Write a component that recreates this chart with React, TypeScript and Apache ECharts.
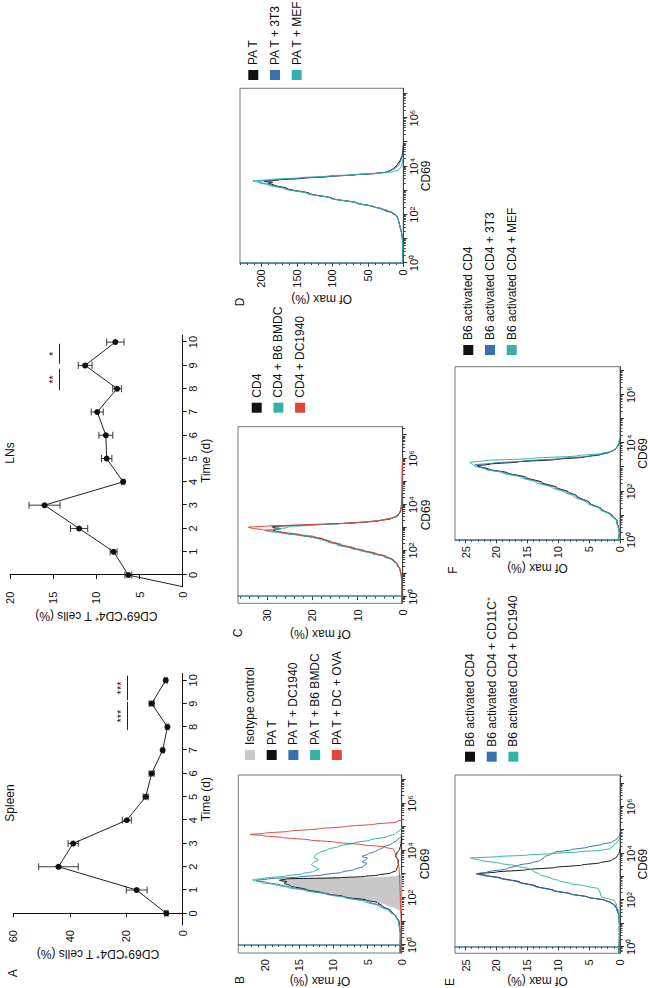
import React, { useEffect, useRef } from 'react';
import * as echarts from 'echarts';

const FONT = '"Liberation Sans", Arial, Helvetica, sans-serif';
const INK = '#111111';

// ---------- Panel A: time courses ----------
const days = [0, 1, 2, 3, 4, 5, 6, 7, 8, 9, 10];
const spleenMean = [5.8, 16.3, 44.0, 38.8, 19.8, 13.1, 11.0, 7.1, 5.4, 11.0, 6.0];
const spleenSem = [0.6, 3.7, 7.0, 1.8, 1.6, 0.9, 0.9, 0.5, 0.5, 0.9, 0.5];
const lnMean = [6.3, 8.0, 12.0, 16.0, 6.9, 8.8, 8.9, 9.9, 7.6, 11.3, 7.8];
const lnSem = [0.4, 0.4, 1.0, 1.8, 0.2, 0.6, 0.8, 0.7, 0.5, 0.8, 1.0];
const lnOrigin = [-0.5, 0];
const spleenTicks = [0, 20, 40, 60];
const lnTicks = [0, 5, 10, 15, 20];
const spleenSig = [
  { from: 7.86, to: 9.07, y: 19.6, label: '***' },
  { from: 9.14, to: 10.2, y: 19.6, label: '***' },
];
const lnSig = [
  { from: 7.93, to: 8.86, y: 14.3, label: '**' },
  { from: 9.07, to: 9.93, y: 14.3, label: '*' },
];

// ---------- Histograms: [log10(CD69), % of max] ----------
const bIsotype = [[1.45, 0], [1.55, 0.8], [1.7, 2.2], [1.85, 4], [2.0, 6.5], [2.15, 9.5], [2.3, 12.8], [2.45, 15.2], [2.6, 16.8], [2.72, 17.6], [2.78, 17], [2.82, 12], [2.85, 4], [2.9, 0.8], [3.0, 0]];
const bPaT = [[-0.34, 0.2], [0.5, 0.2], [1.0, 0.4], [1.2, 0.8], [1.45, 1.6], [1.65, 2.8], [1.8, 3.6], [1.9, 5.2], [2.05, 8.5], [2.2, 11.5], [2.35, 14], [2.5, 16.2], [2.62, 17.2], [2.68, 16.8], [2.74, 17.9], [2.8, 16.8], [2.85, 9], [2.9, 5.5], [2.96, 3.5], [3.05, 1.6], [3.15, 0.8], [3.4, 0.5], [3.6, 0.5], [3.75, 0.9], [3.9, 0.7], [4.05, 0.3], [4.3, 0.1], [4.6, 0]];
const bDC1940 = [[-0.34, 0.3], [0.5, 0.2], [1.0, 0.4], [1.2, 0.8], [1.45, 1.7], [1.65, 3.0], [1.85, 5.0], [2.0, 7.8], [2.15, 10.5], [2.3, 13.5], [2.45, 16.3], [2.55, 17.8], [2.65, 19.8], [2.73, 21.3], [2.8, 19.5], [2.88, 15], [2.97, 11.5], [3.08, 8.8], [3.2, 6.9], [3.33, 5.6], [3.45, 5.1], [3.52, 5.8], [3.6, 5.3], [3.68, 5.0], [3.75, 5.8], [3.85, 4.9], [4.0, 3.6], [4.15, 2.6], [4.3, 1.4], [4.45, 0.6], [4.6, 0.1], [4.8, 0]];
const bBMDC = [[-0.34, 0.3], [0.5, 0.2], [1.0, 0.5], [1.2, 0.9], [1.45, 1.9], [1.65, 3.3], [1.85, 5.5], [2.0, 8.2], [2.15, 11], [2.3, 14], [2.45, 16.8], [2.55, 18.5], [2.65, 20.6], [2.76, 21.8], [2.83, 20], [2.92, 17], [3.02, 14.5], [3.12, 12.8], [3.22, 12.1], [3.3, 12.6], [3.4, 13.2], [3.5, 12.9], [3.6, 12.2], [3.7, 12.8], [3.82, 12.6], [3.92, 12], [4.05, 10.8], [4.18, 9.2], [4.32, 7], [4.45, 4.6], [4.58, 2.2], [4.72, 0.9], [4.9, 0.1], [5.0, 0]];
const bOVA = [[-0.34, 0.1], [1.0, 0.1], [2.0, 0.2], [2.8, 0.3], [3.3, 0.4], [3.6, 0.6], [3.85, 0.9], [4.05, 1.2], [4.15, 2.5], [4.25, 5.8], [4.35, 9.6], [4.45, 13.5], [4.55, 17.3], [4.63, 20.3], [4.68, 22.2], [4.73, 20.1], [4.82, 16.4], [4.92, 12.2], [5.02, 8.0], [5.12, 3.9], [5.2, 0.8], [5.3, 0]];

const cCD4 = [[-0.29, 0.2], [0.5, 0.2], [0.9, 0.3], [1.16, 0.6], [1.4, 1.2], [1.59, 2.2], [1.75, 4], [1.88, 6.6], [2.0, 9], [2.1, 11.2], [2.25, 14], [2.4, 16.5], [2.5, 17.8], [2.56, 19.5], [2.64, 22], [2.74, 25.5], [2.84, 28.2], [2.9, 28.8], [2.95, 27], [3.0, 28.8], [3.04, 29], [3.08, 25], [3.14, 17], [3.2, 10.5], [3.28, 5.5], [3.38, 2.6], [3.5, 1.1], [3.7, 0.5], [4.0, 0.2], [4.5, 0.1], [5.5, 0.1], [6.0, 0]];
const cBMDC = [[-0.29, 0.2], [0.5, 0.2], [0.9, 0.3], [1.16, 0.6], [1.4, 1.3], [1.59, 2.4], [1.75, 4.3], [1.88, 7], [2.0, 9.5], [2.1, 11.6], [2.25, 14.5], [2.4, 17], [2.5, 18.5], [2.58, 20.2], [2.66, 23], [2.76, 27], [2.84, 30], [2.88, 30.5], [2.93, 28], [2.98, 26], [3.04, 25], [3.1, 20], [3.16, 14], [3.22, 9], [3.3, 5], [3.4, 2.4], [3.52, 1], [3.7, 0.4], [4.0, 0.2], [5.0, 0.1], [6.0, 0]];
const cDC1940 = [[-0.29, 0.2], [0.5, 0.2], [0.9, 0.3], [1.16, 0.5], [1.4, 1.1], [1.59, 2.0], [1.75, 3.6], [1.88, 6], [2.0, 8.5], [2.1, 10.6], [2.25, 13.5], [2.4, 16], [2.5, 17.5], [2.6, 19.5], [2.7, 23], [2.8, 27], [2.9, 31], [2.97, 33.5], [3.01, 34.2], [3.06, 30], [3.12, 21], [3.18, 13], [3.25, 7.5], [3.34, 4], [3.45, 1.8], [3.6, 0.8], [3.8, 0.4], [4.2, 0.2], [5.0, 0.1], [6.0, 0]];

const dPaT = [[0, 1], [0.38, 0.5], [0.78, 0.8], [1.08, 1.5], [1.26, 2.5], [1.48, 4.5], [1.73, 6.5], [1.95, 9], [2.08, 16], [2.18, 26], [2.25, 32], [2.33, 42], [2.48, 64], [2.68, 100], [2.88, 132], [3.08, 163], [3.23, 182], [3.3, 190], [3.34, 184], [3.38, 196], [3.44, 175], [3.51, 140], [3.58, 105], [3.65, 68], [3.71, 38], [3.76, 24], [3.83, 18], [3.93, 13], [4.08, 8], [4.28, 4], [4.48, 1.5], [4.73, 0.3], [4.88, 0]];
const d3T3 = [[0, 1], [0.38, 0.5], [0.78, 0.8], [1.08, 1.5], [1.26, 2.5], [1.48, 4.5], [1.73, 6.5], [1.95, 9], [2.08, 15], [2.18, 24], [2.25, 31], [2.33, 42], [2.48, 66], [2.68, 102], [2.88, 135], [3.08, 166], [3.23, 186], [3.33, 200], [3.38, 205], [3.44, 182], [3.51, 145], [3.58, 108], [3.65, 70], [3.71, 40], [3.76, 25], [3.83, 17], [3.93, 11], [4.08, 6], [4.28, 3], [4.48, 1], [4.68, 0]];
const dMEF = [[0, 1], [0.38, 0.5], [0.78, 0.8], [1.08, 1.5], [1.26, 2.5], [1.48, 4.5], [1.73, 6.5], [1.95, 9], [2.08, 14], [2.18, 22], [2.25, 30], [2.33, 41], [2.48, 65], [2.68, 101], [2.88, 135], [3.08, 168], [3.23, 190], [3.33, 204], [3.4, 212], [3.46, 185], [3.53, 145], [3.6, 105], [3.67, 62], [3.73, 30], [3.78, 14], [3.85, 7], [3.98, 3], [4.18, 1], [4.38, 0]];

const eCD4 = [[-0.28, 0.2], [0.5, 0.1], [1.0, 0.1], [1.34, 0.2], [1.6, 0.5], [1.77, 0.8], [1.9, 1.5], [1.99, 2.4], [2.13, 5.2], [2.27, 8], [2.41, 10.7], [2.6, 13.6], [2.77, 16.2], [2.95, 19.3], [3.05, 21.5], [3.13, 23.2], [3.2, 20], [3.3, 15.2], [3.4, 10.5], [3.5, 6.2], [3.6, 3.2], [3.7, 1.4], [3.85, 0.5], [4.05, 0.1], [4.2, 0]];
const eCD11C = [[-0.28, 0.2], [0.5, 0.1], [1.0, 0.1], [1.34, 0.2], [1.6, 0.5], [1.77, 0.9], [1.9, 1.6], [1.99, 2.5], [2.13, 5.3], [2.27, 8.1], [2.41, 10.9], [2.6, 13.9], [2.77, 16.5], [2.95, 19.6], [3.05, 22], [3.12, 23.2], [3.2, 21.5], [3.35, 18.2], [3.5, 16.3], [3.6, 14.3], [3.7, 12.9], [3.85, 12.2], [3.97, 11.2], [4.05, 10.6], [4.15, 8], [4.27, 5.2], [4.38, 3.0], [4.49, 1.3], [4.62, 0.5], [4.77, 0.1], [4.9, 0]];
const eDC1940 = [[-0.28, 0.2], [0.5, 0.1], [1.0, 0.1], [1.49, 0.2], [1.8, 0.6], [1.99, 0.9], [2.05, 1.8], [2.13, 3.0], [2.3, 3.2], [2.49, 3.5], [2.6, 5.5], [2.7, 7.9], [2.82, 9.8], [2.94, 11.2], [3.1, 13], [3.27, 14.2], [3.35, 14.8], [3.45, 16.5], [3.58, 19.5], [3.7, 22.5], [3.8, 24.2], [3.86, 20], [3.93, 15], [4.0, 10.5], [4.07, 6.5], [4.14, 3], [4.2, 1.6], [4.35, 1.0], [4.5, 0.4], [4.62, 0.1], [4.75, 0]];

const fCD4 = [[0, 0.3], [0.3, 0.1], [0.79, 0.5], [1.02, 1.3], [1.27, 3.0], [1.52, 4.9], [1.82, 7.0], [1.97, 8.3], [2.16, 10.2], [2.37, 12.6], [2.58, 15.2], [2.77, 18.2], [2.92, 21.2], [3.06, 23.1], [3.13, 21], [3.22, 16.5], [3.32, 10.5], [3.42, 5.8], [3.52, 3.2], [3.62, 1.7], [3.72, 0.9], [3.87, 0.4], [4.02, 0.1], [4.17, 0]];
const f3T3 = [[0, 0.3], [0.3, 0.1], [0.79, 0.5], [1.02, 1.4], [1.27, 3.1], [1.52, 5.0], [1.82, 7.2], [1.97, 8.6], [2.16, 10.6], [2.37, 13.0], [2.58, 15.6], [2.77, 18.6], [2.92, 21.6], [3.04, 23.2], [3.1, 23.5], [3.17, 20.5], [3.26, 15.5], [3.36, 9.5], [3.46, 5.0], [3.56, 2.6], [3.66, 1.3], [3.77, 0.6], [3.92, 0.2], [4.12, 0]];
const fMEF = [[0, 0.3], [0.3, 0.1], [0.79, 0.6], [1.02, 1.5], [1.27, 3.3], [1.52, 5.3], [1.82, 7.6], [1.97, 9.0], [2.16, 11.0], [2.37, 13.5], [2.58, 16.0], [2.77, 19.0], [2.92, 21.8], [3.07, 23.6], [3.2, 24.3], [3.27, 22], [3.37, 14], [3.47, 7], [3.57, 3], [3.67, 1.2], [3.82, 0.5], [4.02, 0.2], [4.22, 0]];

// ---------- axis constants ----------
const decadeTicks = [0, 1, 2, 3, 4, 5, 6, 7];
const decadeLabels = [0, 2, 4, 6];
const SUP: Record<number, string> = { 0: '⁰', 2: '²', 4: '⁴', 6: '⁶' };

const C_BLACK = '#111111';
const C_BLUE = '#3871b3';
const C_TEAL = '#33b3a8';
const C_RED = '#e0453a';
const C_GRAY = '#c8c8c8';
const SPIKE = '#3f7fa6';

function minorDecadeValues(xmin: number, xmax: number) {
  const out: number[] = [];
  for (let k = -1; k <= 7; k++) {
    for (let m = 2; m <= 9; m++) {
      const v = k + Math.log10(m);
      if (v > xmin && v < xmax) out.push(v);
    }
  }
  return out;
}
function stepValues(step: number, max: number) {
  const out: number[] = [];
  for (let v = 0; v <= max + 1e-9; v += step) out.push(Math.round(v * 1000) / 1000);
  return out;
}

const panels = [
  {
    letter: 'B', box: [35, 238.3, 178, 163.4], xr: [-0.34, 7.2], ymax: 23.9, major: [0, 5, 10, 15, 20], minorStep: 1,
    nameGap: 20, letterPos: [8, 240], legendPos: [223, 239],
    curves: [
      { name: 'Isotype control', data: bIsotype, color: C_GRAY, fill: true },
      { name: 'PA T', data: bPaT, color: C_BLACK },
      { name: 'PA T + DC1940', data: bDC1940, color: C_BLUE },
      { name: 'PA T + B6 BMDC', data: bBMDC, color: C_TEAL },
      { name: 'PA T + DC + OVA', data: bOVA, color: C_RED },
    ],
  },
  {
    letter: 'C', box: [384.7, 238, 176.6, 164.7], xr: [-0.29, 7.37], ymax: 36.5, major: [0, 10, 20, 30], minorStep: 2,
    nameGap: 25, letterPos: [355, 238], legendPos: [570.3, 245.7],
    curves: [
      { name: 'CD4', data: cCD4, color: C_BLACK },
      { name: 'CD4 + B6 BMDC', data: cBMDC, color: C_TEAL },
      { name: 'CD4 + DC1940', data: cDC1940, color: C_RED },
    ],
  },
  {
    letter: 'D', box: [724.7, 240, 175, 163.3], xr: [-0.01, 7.23], ymax: 230, major: [0, 50, 100, 150, 200], minorStep: 10,
    nameGap: 30, letterPos: [686, 240], legendPos: [903, 242.3],
    curves: [
      { name: 'PA T', data: dPaT, color: C_BLACK },
      { name: 'PA T + 3T3', data: d3T3, color: C_BLUE },
      { name: 'PA T + MEF', data: dMEF, color: C_TEAL },
    ],
  },
  {
    letter: 'E', box: [34.7, 455, 178.3, 165], xr: [-0.28, 7.36], ymax: 26.7, major: [0, 5, 10, 15, 20, 25], minorStep: 1,
    nameGap: 21, letterPos: [6, 450], legendPos: [221.3, 459],
    curves: [
      { name: 'B6 activated CD4', data: eCD4, color: C_BLACK },
      { name: 'B6 activated CD4 + CD11C⁺', data: eCD11C, color: C_BLUE },
      { name: 'B6 activated CD4 + DC1940', data: eDC1940, color: C_TEAL },
    ],
  },
  {
    letter: 'F', box: [448, 455, 173.3, 165], xr: [-0.01, 7.16], ymax: 26.7, major: [0, 5, 10, 15, 20, 25], minorStep: 1,
    nameGap: 21, letterPos: [418, 453], legendPos: [628, 457.3],
    curves: [
      { name: 'B6 activated CD4', data: fCD4, color: C_BLACK },
      { name: 'B6 activated CD4 + 3T3', data: f3T3, color: C_BLUE },
      { name: 'B6 activated CD4 + MEF', data: fMEF, color: C_TEAL },
    ],
  },
];

const tickLabel = { fontFamily: FONT, fontSize: 11, color: INK };
const nameStyle = { fontFamily: FONT, fontSize: 12, color: INK };

function lineX(g: number) {
  return {
    type: 'value', gridIndex: g, min: -0.5, max: 10.3,
    axisLine: { show: true, onZero: false, lineStyle: { color: INK, width: 1 } },
    axisTick: { show: true, customValues: days, length: 4, lineStyle: { color: INK } },
    axisLabel: { show: true, customValues: days, margin: 5, ...tickLabel },
    splitLine: { show: false },
    name: 'Time (d)', nameLocation: 'middle', nameGap: 15, nameTextStyle: nameStyle,
  };
}
function lineY(g: number, max: number, ticks: number[]) {
  return {
    type: 'value', gridIndex: g, min: 0, max,
    axisLine: { show: true, lineStyle: { color: INK, width: 1 } },
    axisTick: { show: true, customValues: ticks, length: 4, lineStyle: { color: INK } },
    axisLabel: { show: true, customValues: ticks, margin: 5, ...tickLabel },
    splitLine: { show: false },
    name: 'CD69⁺CD4⁺ T cells (%)', nameLocation: 'middle', nameRotate: 90, nameGap: 23, nameTextStyle: nameStyle,
  };
}
function lineSeries(g: number, means: number[], origin: number[] | null, sig: any[]) {
  const pts: any[] = days.map((d, i) => [d, means[i]]);
  if (origin) pts.unshift({ value: origin, symbol: 'none' });
  return {
    type: 'line', xAxisIndex: g, yAxisIndex: g, data: pts,
    symbol: 'circle', symbolSize: 6, showSymbol: true,
    itemStyle: { color: C_BLACK }, lineStyle: { color: '#222', width: 1 },
    z: 4, silent: true,
    markLine: {
      silent: true, symbol: ['none', 'none'], animation: false,
      lineStyle: { color: '#222', width: 1, type: 'solid' },
      label: { show: true, position: 'middle', formatter: '{b}', distance: 1, fontFamily: FONT, fontSize: 11, color: INK },
      emphasis: { disabled: true },
      data: sig.map((s) => [{ name: s.label, coord: [s.from, s.y] }, { coord: [s.to, s.y] }]),
    },
  };
}
function errSeries(g: number, means: number[], sems: number[]) {
  return {
    type: 'custom', xAxisIndex: g, yAxisIndex: g, silent: true, z: 3,
    data: days.map((d, i) => [d, means[i] - sems[i], means[i] + sems[i]]),
    encode: { x: 0, y: [1, 2] },
    renderItem: (_p: any, api: any) => {
      const x = api.value(0);
      const lo = api.coord([x, api.value(1)]);
      const hi = api.coord([x, api.value(2)]);
      const w = 3.5;
      const style = { stroke: '#222', lineWidth: 0.9 };
      return {
        type: 'group',
        children: [
          { type: 'line', shape: { x1: lo[0], y1: lo[1], x2: hi[0], y2: hi[1] }, style },
          { type: 'line', shape: { x1: lo[0] - w, y1: lo[1], x2: lo[0] + w, y2: lo[1] }, style },
          { type: 'line', shape: { x1: hi[0] - w, y1: hi[1], x2: hi[0] + w, y2: hi[1] }, style },
        ],
      };
    },
  };
}

function gtext(text: string, x: number, y: number, size = 12) {
  return {
    type: 'text', x, y, silent: true,
    style: { text, fontFamily: FONT, fontSize: size, fill: INK, align: 'center', verticalAlign: 'middle' },
  };
}

function buildOption() {
  const grids: any[] = [
    { left: 63, top: 13.3, width: 251.7, height: 169.4, show: false, containLabel: false, outerBoundsMode: 'none' },
    { left: 401.3, top: 10, width: 251.6, height: 172.7, show: false, containLabel: false, outerBoundsMode: 'none' },
  ];
  const xAxis: any[] = [lineX(0), lineX(1)];
  const yAxis: any[] = [lineY(0, 60, spleenTicks), lineY(1, 20, lnTicks)];
  const series: any[] = [
    errSeries(0, spleenMean, spleenSem),
    lineSeries(0, spleenMean, null, spleenSig),
    errSeries(1, lnMean, lnSem),
    lineSeries(1, lnMean, lnOrigin, lnSig),
  ];
  const legend: any[] = [];
  const graphic: any[] = [gtext('A', 14.7, 13.3), gtext('Spleen', 185, 10), gtext('LNs', 535, 10)];

  panels.forEach((p, i) => {
    const g = 2 + i;
    const major = 2 + 2 * i;
    const [xmin, xmax] = p.xr;
    grids.push({
      left: p.box[0], top: p.box[1], width: p.box[2], height: p.box[3],
      show: true, borderColor: '#777', borderWidth: 1, backgroundColor: 'rgba(0,0,0,0)',
      containLabel: false, outerBoundsMode: 'none',
    });
    xAxis.push({
      type: 'value', gridIndex: g, min: xmin, max: xmax, position: 'bottom',
      axisLine: { show: true, onZero: false, lineStyle: { color: '#444', width: 1 } },
      axisTick: { show: true, customValues: decadeTicks.filter((v) => v >= xmin && v <= xmax), length: 4, lineStyle: { color: '#333' } },
      axisLabel: { show: true, customValues: decadeLabels, margin: 5, formatter: (v: number) => '10' + (SUP[Math.round(v)] || ''), ...tickLabel },
      splitLine: { show: false },
      name: 'CD69', nameLocation: 'middle', nameGap: 15, nameTextStyle: nameStyle,
    });
    xAxis.push({
      type: 'value', gridIndex: g, min: xmin, max: xmax, position: 'bottom',
      axisLine: { show: false, onZero: false },
      axisTick: { show: true, customValues: minorDecadeValues(xmin, xmax), length: 2.5, lineStyle: { color: '#444' } },
      axisLabel: { show: false },
      splitLine: { show: false },
    });
    yAxis.push({
      type: 'value', gridIndex: g, min: 0, max: p.ymax, position: 'left',
      axisLine: { show: true, lineStyle: { color: SPIKE, width: 1.5 } },
      axisTick: { show: true, customValues: p.major, length: 3.5, lineStyle: { color: '#333' } },
      axisLabel: { show: true, customValues: p.major, margin: 6, ...tickLabel },
      splitLine: { show: false },
      name: 'Of max (%)', nameLocation: 'middle', nameRotate: 90, nameGap: p.nameGap, nameTextStyle: nameStyle,
    });
    yAxis.push({
      type: 'value', gridIndex: g, min: 0, max: p.ymax, position: 'left',
      axisLine: { show: false },
      axisTick: { show: true, customValues: stepValues(p.minorStep, p.ymax), length: 2, lineStyle: { color: '#444' } },
      axisLabel: { show: false },
      splitLine: { show: false },
    });
    p.curves.forEach((c: any, ci: number) => {
      series.push({
        type: 'line', name: c.name, xAxisIndex: major, yAxisIndex: major, data: c.data,
        showSymbol: false, symbol: 'none', smooth: 0.3, smoothMonotone: 'x',
        color: c.color,
        itemStyle: { color: c.color },
        lineStyle: { color: c.fill ? '#bdbdbd' : c.color, width: c.fill ? 0.6 : 1 },
        areaStyle: c.fill ? { color: C_GRAY, opacity: 1 } : undefined,
        z: 2 + ci, silent: true,
      });
    });
    legend.push({
      orient: 'vertical', left: p.legendPos[0], top: p.legendPos[1],
      itemWidth: 10, itemHeight: 10, itemGap: 9.7, icon: 'rect', selectedMode: false,
      textStyle: { fontFamily: FONT, fontSize: 12, color: INK, lineHeight: 12 },
      data: p.curves.map((c: any) => c.name),
    });
    graphic.push(gtext(p.letter, p.letterPos[0], p.letterPos[1]));
  });

  return {
    animation: false,
    backgroundColor: '#ffffff',
    textStyle: { fontFamily: FONT },
    grid: grids,
    xAxis,
    yAxis,
    series,
    legend,
    graphic,
  };
}

export default function App() {
  const ref = useRef<HTMLDivElement>(null);
  useEffect(() => {
    if (!ref.current) return;
    const chart = echarts.init(ref.current, null, { renderer: 'svg', width: 988, height: 650 });
    chart.setOption(buildOption() as any);
    return () => chart.dispose();
  }, []);
  return (
    <div style={{ position: 'fixed', left: 0, top: 0, width: 650, height: 988, overflow: 'hidden', background: '#fff' }}>
      <div
        ref={ref}
        style={{
          position: 'absolute', left: 0, top: 0, width: 988, height: 650,
          transformOrigin: '0 0', transform: 'translate(0px, 988px) rotate(-90deg)',
        }}
      />
    </div>
  );
}
